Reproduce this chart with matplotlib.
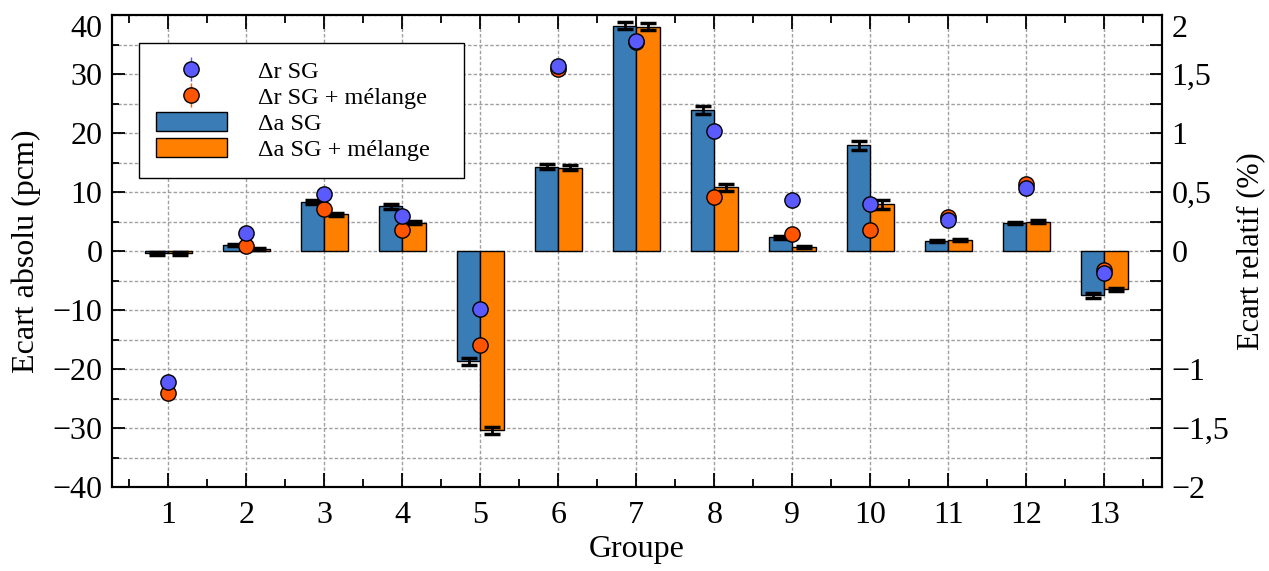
import numpy as np
import matplotlib
matplotlib.use("Agg")
import matplotlib.pyplot as plt
from matplotlib.ticker import MultipleLocator, FixedLocator

plt.rcParams['font.family'] = ['Liberation Serif', 'DejaVu Serif']
plt.rcParams['axes.unicode_minus'] = True

# Data
groups = np.arange(1, 14)
abs_sg = [-0.4, 1.05, 8.3, 7.6, -18.7, 14.3, 38.2, 23.9, 2.3, 17.9, 1.7, 4.7, -7.5]
abs_sg_err = [0.3, 0.2, 0.3, 0.4, 0.6, 0.4, 0.6, 0.6, 0.2, 0.8, 0.2, 0.2, 0.4]
abs_mel = [-0.4, 0.3, 6.2, 4.8, -30.4, 14.1, 38.0, 10.8, 0.7, 7.9, 1.9, 5.0, -6.5]
abs_mel_err = [0.3, 0.2, 0.2, 0.3, 0.6, 0.4, 0.6, 0.6, 0.2, 0.8, 0.2, 0.2, 0.3]
rel_sg = [-1.108, 0.155, 0.485, 0.295, -0.49, 1.564, 1.78, 1.02, 0.43, 0.40, 0.26, 0.53, -0.19]
rel_mel = [-1.20, 0.045, 0.36, 0.18, -0.80, 1.54, 1.77, 0.46, 0.145, 0.178, 0.29, 0.565, -0.165]
rel_err = 0.01

c_bar_sg = '#3a7db6'
c_bar_mel = '#ff8000'
c_pt_sg = '#5a5aff'
c_pt_mel = '#ff5500'

fig = plt.figure(figsize=(12.69, 5.71), dpi=100)
ax = fig.add_axes([0.0883, 0.1471, 0.8274, 0.8266])
ax2 = ax.twinx()

w = 0.3
ekw = dict(ecolor='black', elinewidth=2, capsize=6, capthick=2.5)
b1 = ax.bar(groups - w / 2, abs_sg, w, yerr=abs_sg_err, color=c_bar_sg,
            edgecolor='black', linewidth=1, error_kw=ekw, label='Δa SG')
b2 = ax.bar(groups + w / 2, abs_mel, w, yerr=abs_mel_err, color=c_bar_mel,
            edgecolor='black', linewidth=1, error_kw=ekw, label='Δa SG + mélange')

p2 = ax2.errorbar(groups, rel_mel, yerr=rel_err, fmt='o', ms=11, mfc=c_pt_mel,
                  mec='black', mew=1, ecolor=c_pt_mel, elinewidth=1,
                  label='Δr SG + mélange', zorder=3)
p1 = ax2.errorbar(groups, rel_sg, yerr=rel_err, fmt='o', ms=11, mfc=c_pt_sg,
                  mec='black', mew=1, ecolor=c_pt_sg, elinewidth=1,
                  label='Δr SG', zorder=4)

ax.set_xlim(0.28, 13.74)
ax.set_ylim(-40, 40)
ax2.set_ylim(-2, 2)

ax.set_xticks(groups)
ax.xaxis.set_minor_locator(MultipleLocator(0.5))
ax.yaxis.set_major_locator(MultipleLocator(10))
ax.yaxis.set_minor_locator(MultipleLocator(5))

rticks = np.arange(-2, 2.01, 0.5)
ax2.yaxis.set_major_locator(FixedLocator(rticks))
ax2.yaxis.set_minor_locator(MultipleLocator(0.25))
rlabels = []
for v in rticks:
    if abs(v + 0.5) < 1e-9:
        rlabels.append('')
    else:
        rlabels.append(('%g' % v).replace('.', ',').replace('-', '\u2212'))
ax2.set_yticklabels(rlabels)

ax.set_axisbelow(True)
grid_style = dict(color='#a0a0a0', linestyle=(0, (2.5, 1.5)), linewidth=1)
ax.grid(True, which='major', axis='x', **grid_style)
ax.grid(True, which='both', axis='y', **grid_style)

ax.tick_params(axis='both', which='both', direction='in', width=1.3, labelsize=23)
ax.tick_params(axis='x', which='both', top=True, pad=10)
ax.tick_params(axis='x', which='major', length=10)
ax.tick_params(axis='x', which='minor', length=5.5)
ax.tick_params(axis='y', which='major', length=9.5, pad=7)
ax.tick_params(axis='y', which='minor', length=5)
ax2.tick_params(axis='y', which='both', direction='in', length=8.5, width=1.3,
                labelsize=23, pad=7)

for a in (ax, ax2):
    for s in a.spines.values():
        s.set_linewidth(1.5)

fig.canvas.draw()
for lab in ax.get_yticklabels():
    if lab.get_text() == '40':
        lab.set_verticalalignment('top')
for lab in ax2.get_yticklabels():
    if lab.get_text() == '2':
        lab.set_verticalalignment('top')

ax.set_xlabel('Groupe', fontsize=23, labelpad=4)
ax.set_ylabel('Ecart absolu (pcm)', fontsize=23, labelpad=8)
ax2.set_ylabel('Ecart relatif (%)', fontsize=22, labelpad=5)

leg = ax2.legend([p1, p2, b1, b2],
                 ['Δr SG', 'Δr SG + mélange', 'Δa SG', 'Δa SG + mélange'],
                 loc='upper left', bbox_to_anchor=(0.0257, 0.6547, 0.3095, 0.286),
                 mode='expand', borderaxespad=0, fontsize=17.5, handlelength=2.9,
                 handleheight=0.8, handletextpad=1.3, labelspacing=0.14,
                 borderpad=0.7, fancybox=False, framealpha=1,
                 edgecolor='black')
leg.get_frame().set_linewidth(1)

fig.savefig('out.png', dpi=100)
